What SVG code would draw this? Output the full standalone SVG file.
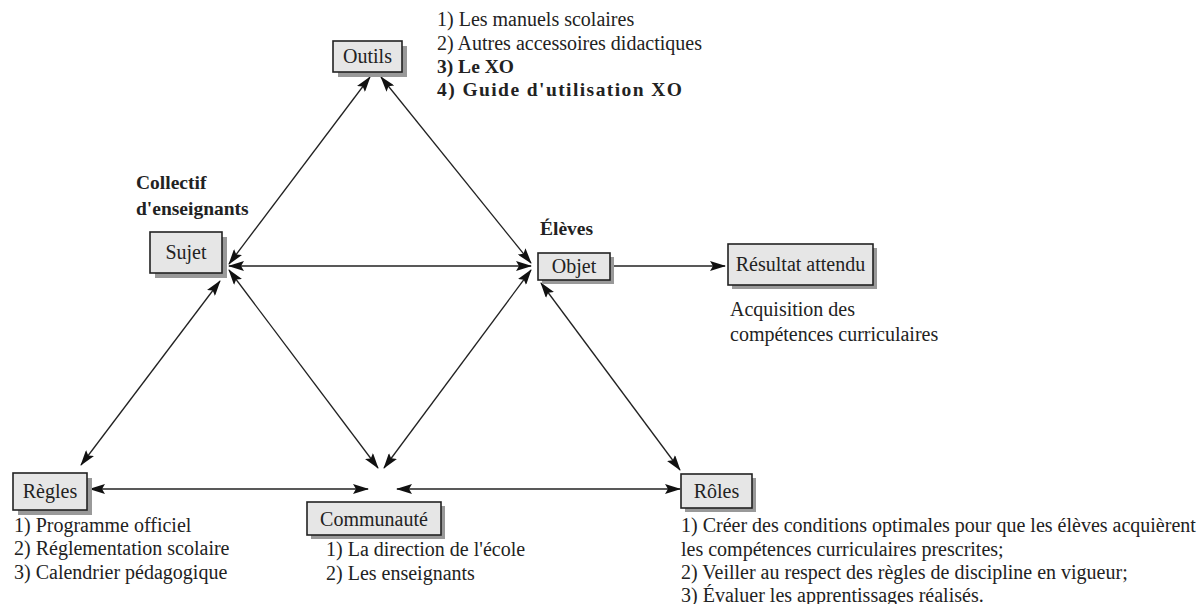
<svg xmlns="http://www.w3.org/2000/svg" width="1199" height="604" viewBox="0 0 1199 604">
<style>
text{font-family:"Liberation Serif","Times New Roman",serif;font-size:20px;fill:#222}
.b{font-weight:bold;font-size:19.5px}
.box{fill:#e6e6e6;stroke:#222;stroke-width:1.6}
.sh{fill:#999}
.ln{stroke:#222;stroke-width:1.3;fill:none}
.c{text-anchor:middle}
</style>
<defs>
<marker id="ah" viewBox="0 0 16 10" refX="15" refY="5" markerWidth="16" markerHeight="10" markerUnits="userSpaceOnUse" orient="auto-start-reverse">
<path d="M0,0 L16,5 L0,10 L3,5 Z" fill="#111"/>
</marker>
</defs>
<rect width="1199" height="604" fill="#fff"/>
<g id="connectors">
<line class="ln" x1="370" y1="77" x2="229" y2="264" marker-start="url(#ah)" marker-end="url(#ah)"/>
<line class="ln" x1="381" y1="77" x2="531" y2="263" marker-start="url(#ah)" marker-end="url(#ah)"/>
<line class="ln" x1="229" y1="266" x2="531" y2="266" marker-start="url(#ah)" marker-end="url(#ah)"/>
<line class="ln" x1="220" y1="281" x2="81" y2="465" marker-start="url(#ah)" marker-end="url(#ah)"/>
<line class="ln" x1="229" y1="270" x2="378" y2="468" marker-start="url(#ah)" marker-end="url(#ah)"/>
<line class="ln" x1="531" y1="270" x2="384" y2="468" marker-start="url(#ah)" marker-end="url(#ah)"/>
<line class="ln" x1="541" y1="283" x2="680" y2="470" marker-start="url(#ah)" marker-end="url(#ah)"/>
<line class="ln" x1="90" y1="489" x2="368" y2="489" marker-start="url(#ah)" marker-end="url(#ah)"/>
<line class="ln" x1="397" y1="489" x2="680" y2="489" marker-start="url(#ah)" marker-end="url(#ah)"/>
<line class="ln" x1="612" y1="266" x2="725" y2="266" marker-end="url(#ah)"/>
</g>
<g id="outils">
<rect class="sh" x="338" y="46" width="69" height="31"/>
<rect class="box" x="333" y="41" width="69" height="31"/>
<text class="c" x="367.5" y="63">Outils</text>
</g>
<g id="outils-list">
<text x="437" y="26">1) Les manuels scolaires</text>
<text x="437" y="50">2) Autres accessoires didactiques</text>
<text class="b" x="437" y="73">3) Le XO</text>
<text class="b" x="437" y="96" textLength="245" lengthAdjust="spacing">4) Guide d'utilisation XO</text>
</g>
<g id="sujet">
<text class="b" x="136" y="189">Collectif</text>
<text class="b" x="136" y="215">d'enseignants</text>
<rect class="sh" x="155" y="237" width="72" height="41"/>
<rect class="box" x="150" y="232" width="72" height="41"/>
<text class="c" x="186" y="259">Sujet</text>
</g>
<g id="objet">
<text class="b" x="540" y="235">Élèves</text>
<rect class="sh" x="542" y="257" width="72" height="27"/>
<rect class="box" x="538" y="253" width="72" height="27"/>
<text class="c" x="574" y="273">Objet</text>
</g>
<g id="resultat">
<rect class="sh" x="732" y="248" width="145" height="41"/>
<rect class="box" x="728" y="244" width="145" height="41"/>
<text class="c" x="800.5" y="271">Résultat attendu</text>
<text x="730" y="316">Acquisition des</text>
<text x="730" y="341">compétences curriculaires</text>
</g>
<g id="regles">
<rect class="sh" x="18" y="478" width="74" height="37"/>
<rect class="box" x="13" y="473" width="74" height="37"/>
<text class="c" x="50" y="498">Règles</text>
<text x="14" y="532">1) Programme officiel</text>
<text x="14" y="555">2) Réglementation scolaire</text>
<text x="14" y="579">3) Calendrier pédagogique</text>
</g>
<g id="communaute">
<rect class="sh" x="311" y="506" width="134" height="33"/>
<rect class="box" x="307" y="502" width="134" height="33"/>
<text class="c" x="374" y="526">Communauté</text>
<text x="326" y="556">1) La direction de l'école</text>
<text x="326" y="580">2) Les enseignants</text>
</g>
<g id="roles">
<rect class="sh" x="685" y="478" width="71" height="34"/>
<rect class="box" x="681" y="474" width="71" height="34"/>
<text class="c" x="716.5" y="498">Rôles</text>
<text x="681" y="532">1) Créer des conditions optimales pour que les élèves acquièrent</text>
<text x="681" y="556">les compétences curriculaires prescrites;</text>
<text x="681" y="579">2) Veiller au respect des règles de discipline en vigueur;</text>
<text x="681" y="602">3) Évaluer les apprentissages réalisés.</text>
</g>
</svg>
